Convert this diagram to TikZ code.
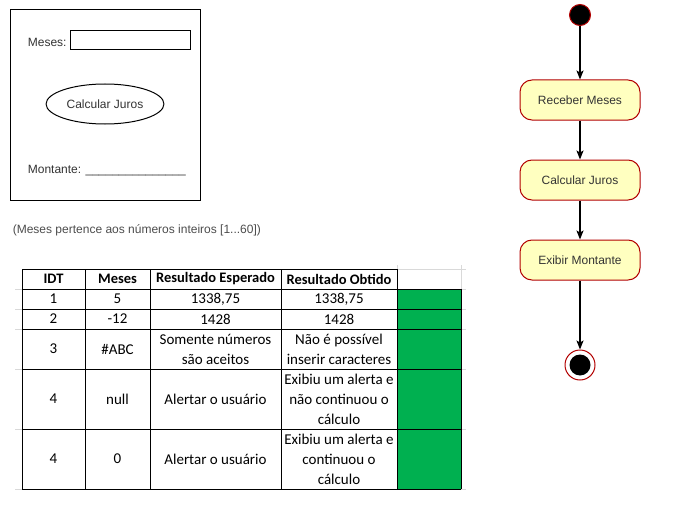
\documentclass[tikz,border=0pt]{standalone}
\usepackage{fontspec}
\setmainfont{Liberation Sans}
\newfontfamily\calibri{Carlito}
\usetikzlibrary{shapes.geometric,arrows.meta}

\definecolor{actfill}{HTML}{FFFFC0}
\definecolor{actline}{HTML}{B20000}
\definecolor{okgreen}{HTML}{00B050}

\tikzset{
  act/.style={rectangle,rounded corners=12pt,draw=actline,fill=actfill,
    minimum width=120pt,minimum height=40pt,text=black!80,
    font=\fontsize{12}{14}\selectfont},
  flow/.style={-{Stealth[length=9pt,width=7pt,inset=2pt]},line width=1.2pt},
  cell/.style={align=center,inner sep=0pt,font=\calibri\fontsize{15}{20}\selectfont},
  head/.style={cell,font=\calibri\bfseries\fontsize{14.5}{20}\selectfont}
}

\begin{document}
\begin{tikzpicture}[x=1pt,y=-1pt,line width=1pt]
  \useasboundingbox (0,0) rectangle (675,511);

  % tela
  \begin{scope}[every node/.style={font=\fontsize{12}{14}\selectfont,text=black!80}]
    \node[draw=black,minimum width=190pt,minimum height=190pt] (tela) at (105,105) {};
    \node[anchor=west] (meses) at (24,42) {Meses:};
    \node[draw=black,minimum width=120pt,minimum height=19pt] (campo) at (130,40.5) {};
    \node[draw=black,ellipse,minimum width=110pt,minimum height=40pt] (botao) at (105,104) {Calcular Juros};
    \node[anchor=west] (montante) at (24,171) {Montante: \_\_\_\_\_\_\_\_\_\_\_\_\_\_\_};
    \node[anchor=west,font=\fontsize{12}{14}\selectfont,text=black!70] (obs) at (9,230)
      {(Meses pertence aos números inteiros [1...60])};
  \end{scope}

  % tabela
  \fill[okgreen] (397,289) rectangle (461,489);
  \draw[black!15] (397,265) -- (397,269) (461,265) -- (461,289) (397,269) -- (466,269);
  \foreach \y in {289,309,329,369,429,489}
    \draw[black!15] (15,\y) -- (22,\y) (461,\y) -- (466,\y);
  \foreach \y in {269,289,309,329,369,429,489}
    \draw (22,\y) -- (397,\y);
  \foreach \y in {289,309,329,369,429,489}
    \draw (397,\y) -- (461,\y);
  \foreach \x in {22,85,150,281,397}
    \draw (\x,269) -- (\x,489);
  \draw (461,289) -- (461,489);

  \node[head] (h1) at (53.5,279) {IDT};
  \node[head] (h2) at (117.5,279) {Meses};
  \node[head] (h3) at (215.5,279) {Resultado Esperado};
  \node[head] (h4) at (339,279) {Resultado Obtido};

  \node[cell] (c11) at (53.5,299) {1};
  \node[cell] (c12) at (117.5,299) {5};
  \node[cell] (c13) at (215.5,299) {1338,75};
  \node[cell] (c14) at (339,299) {1338,75};

  \node[cell] (c21) at (53.5,319) {2};
  \node[cell] (c22) at (117.5,319) {-12};
  \node[cell] (c23) at (215.5,319) {1428};
  \node[cell] (c24) at (339,319) {1428};

  \node[cell] (c31) at (53.5,349) {3};
  \node[cell] (c32) at (117.5,349) {\#ABC};
  \node[cell] (c33) at (215.5,349) {Somente números\\são aceitos};
  \node[cell] (c34) at (339,349) {Não é possível\\inserir caracteres};

  \node[cell] (c41) at (53.5,399) {4};
  \node[cell] (c42) at (117.5,399) {null};
  \node[cell] (c43) at (215.5,399) {Alertar o usuário};
  \node[cell] (c44) at (339,399) {Exibiu um alerta e\\não continuou o\\cálculo};

  \node[cell] (c51) at (53.5,459) {4};
  \node[cell] (c52) at (117.5,459) {0};
  \node[cell] (c53) at (215.5,459) {Alertar o usuário};
  \node[cell] (c54) at (339,459) {Exibiu um alerta e\\continuou o\\cálculo};

  % atividades
  \node[circle,draw=actline,fill=black,minimum size=21pt,inner sep=0pt] (ini) at (580,15) {};
  \node[act] (a1) at (580,100) {Receber Meses};
  \node[act] (a2) at (580,180) {Calcular Juros};
  \node[act] (a3) at (580,260) {Exibir Montante};
  \node[circle,draw=actline,fill=white,minimum size=30pt,inner sep=0pt] (fim) at (580,365) {};
  \node[circle,fill=black,minimum size=21pt,inner sep=0pt] (fimin) at (fim) {};

  \draw[flow] (ini) -- (a1);
  \draw[flow] (a1) -- (a2);
  \draw[flow] (a2) -- (a3);
  \draw[flow] (a3) -- (fim);

\end{tikzpicture}
\end{document}
